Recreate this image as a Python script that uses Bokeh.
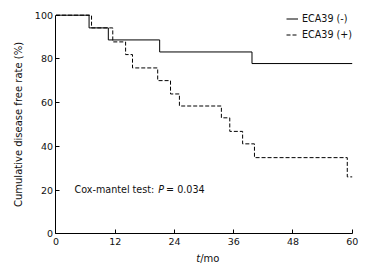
from bokeh.plotting import figure
from bokeh.models import Label, Legend, LegendItem, FixedTicker, Range1d
from bokeh.embed import file_html
from bokeh.resources import INLINE

# Data (Kaplan-Meier style step curves)
neg_months = [0, 6.7, 10.6, 21.0, 39.7, 60]
neg_rate = [100, 94.2, 88.7, 83.2, 77.9, 77.9]

pos_months = [0, 7.2, 11.5, 14.1, 15.5, 20.6, 23.2, 25.0, 33.5, 35.2, 37.8, 40.2, 59.0, 60]
pos_rate = [100, 94.2, 87.8, 82.0, 75.9, 70.1, 64.0, 58.5, 53.1, 46.9, 41.2, 34.9, 26.1, 26.1]

x_ticks = [0, 12, 24, 36, 48, 60]
y_ticks = [0, 20, 40, 60, 80, 100]
series_labels = ["ECA39 (-)", "ECA39 (+)"]

FONT = "DejaVu Sans"

# The frame covers the whole canvas; both axes are pinned at 0 so that the
# titles (with italic letters) can be placed as labels around them.
p = figure(width=384, height=275, output_backend="svg", toolbar_location=None,
           x_range=Range1d(-11.24, 66.54), y_range=Range1d(-18.97, 106.72),
           min_border_left=0, min_border_right=0, min_border_top=0, min_border_bottom=0)
p.outline_line_color = None
p.grid.visible = False
p.background_fill_color = "white"

r_neg = p.step(neg_months, neg_rate, mode="after", line_color="black", line_width=1)
r_pos = p.step(pos_months, pos_rate, mode="after", line_color="black", line_width=1,
               line_dash="4 2")

for ax in (p.xaxis[0], p.yaxis[0]):
    ax.axis_line_color = "black"
    ax.major_tick_line_color = "black"
    ax.major_tick_in = 4
    ax.major_tick_out = 0
    ax.minor_tick_line_color = None
    ax.major_label_text_font = FONT
    ax.major_label_text_font_size = "9.5px"
    ax.major_label_text_color = "#111111"

p.xaxis.ticker = FixedTicker(ticks=x_ticks)
p.yaxis.ticker = FixedTicker(ticks=y_ticks)
p.xaxis.fixed_location = 0
p.yaxis.fixed_location = 0
p.xaxis.bounds = (0, 60)
p.yaxis.bounds = (0, 100)
p.xaxis.major_label_standoff = 4
p.yaxis.major_label_standoff = 3

p.yaxis.axis_label = "Cumulative disease free rate (%)"
p.yaxis.axis_label_text_font = FONT
p.yaxis.axis_label_text_font_size = "10px"
p.yaxis.axis_label_text_font_style = "normal"
p.yaxis.axis_label_text_color = "#111111"
p.yaxis.axis_label_standoff = 7

# x axis title "t/mo" with italic t
p.add_layout(Label(x=28.4, y=-11.2, text="t", text_font=FONT, text_font_size="10px",
                   text_font_style="italic", text_baseline="middle", text_color="#111111"))
p.add_layout(Label(x=29.2, y=-11.2, text="/mo", text_font=FONT, text_font_size="10px",
                   text_baseline="middle", text_color="#111111"))

# annotation text
p.add_layout(Label(x=3.75, y=20.5, text="Cox-mantel test:", text_font=FONT,
                   text_font_size="9.6px", text_baseline="middle", text_color="#111111"))
p.add_layout(Label(x=20.7, y=20.5, text="P", text_font=FONT, text_font_size="9.6px",
                   text_font_style="italic", text_baseline="middle", text_color="#111111"))
p.add_layout(Label(x=22.3, y=20.5, text="= 0.034", text_font=FONT,
                   text_font_size="9.6px", text_baseline="middle", text_color="#111111"))

legend = Legend(items=[LegendItem(label=series_labels[0], renderers=[r_neg]),
                       LegendItem(label=series_labels[1], renderers=[r_pos])],
                location=(286, 233), orientation="vertical")
legend.label_text_font = FONT
legend.label_text_font_size = "9.6px"
legend.label_text_color = "#111111"
legend.label_height = 15
legend.glyph_height = 15
legend.glyph_width = 12
legend.label_standoff = 4
legend.spacing = 1
legend.padding = 0
legend.margin = 0
legend.border_line_alpha = 0
legend.background_fill_alpha = 0
p.add_layout(legend)

open("out.html", "w").write(file_html(p, INLINE))
